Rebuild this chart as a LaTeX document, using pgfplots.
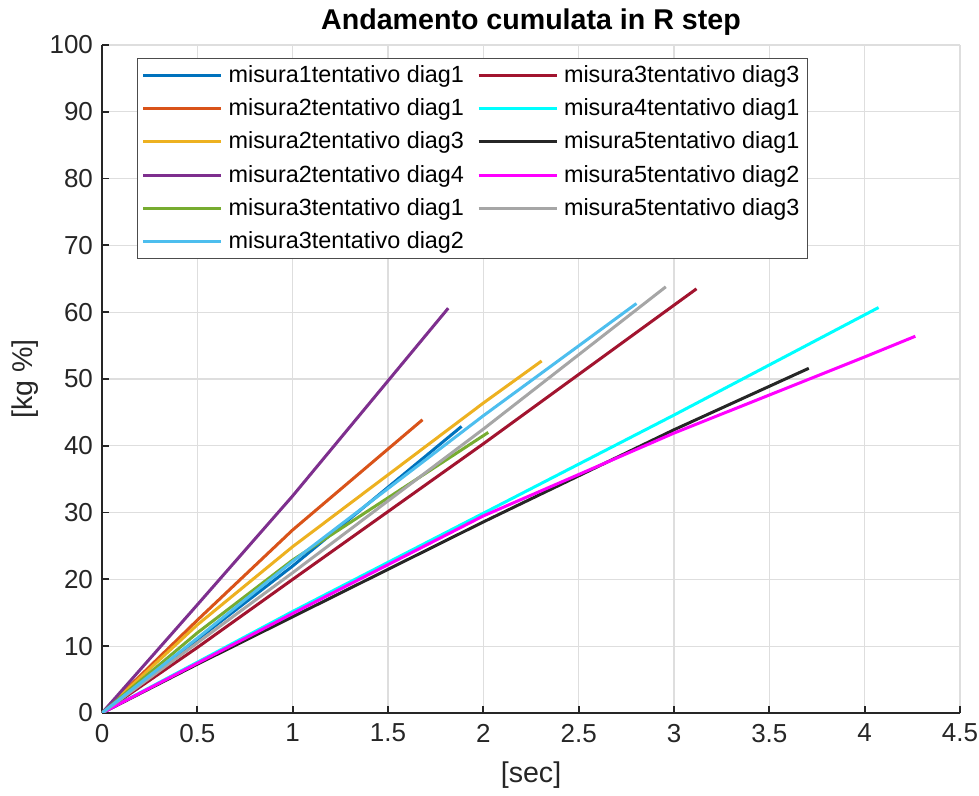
\documentclass[border=0pt]{standalone}
\usepackage{fontspec}
\setmainfont{Liberation Sans}
\usepackage{pgfplots}
\pgfplotsset{compat=1.18}

% MATLAB default line colours
\definecolor{mBlue}{rgb}{0,0.447,0.741}
\definecolor{mOrange}{rgb}{0.85,0.325,0.098}
\definecolor{mYellow}{rgb}{0.929,0.694,0.125}
\definecolor{mPurple}{rgb}{0.494,0.184,0.556}
\definecolor{mGreen}{rgb}{0.466,0.674,0.188}
\definecolor{mLBlue}{rgb}{0.301,0.745,0.933}
\definecolor{mRed}{rgb}{0.635,0.078,0.184}
\definecolor{mBlack}{rgb}{0.15,0.15,0.15}
\definecolor{mGrey}{rgb}{0.65,0.65,0.65}
\definecolor{mCyan}{rgb}{0,1,1}
\definecolor{mMagenta}{rgb}{1,0,1}

\begin{document}
\begin{tikzpicture}
\begin{axis}[
    name=ax,
    scale only axis,
    width=429pt,
    height=334pt,
    xmin=0, xmax=4.5,
    ymin=0, ymax=100,
    xtick={0,0.5,1,1.5,2,2.5,3,3.5,4,4.5},
    xticklabels={0,0.5,1,1.5,2,2.5,3,3.5,4,4.5},
    ytick={0,10,...,100},
    axis lines*=left,
    axis line style={color=mBlack, line width=0.9pt},
    tick align=inside,
    major tick length=3.5pt,
    tick style={color=mBlack, line width=0.9pt},
    grid=major,
    major grid style={color=black!13, line width=0.6pt},
    /pgf/number format/assume math mode=true,
    ticklabel style={font=\fontsize{13}{15}\selectfont, color=mBlack},
    xticklabel style={yshift=-2pt},
    yticklabel style={xshift=-1pt},
    title={\textbf{Andamento cumulata in R step}},
    title style={font=\fontsize{14.3}{16}\selectfont, at={(axis description cs:0.5,1)}, anchor=center, yshift=5.5pt},
    xlabel={[sec]},
    ylabel={[kg \%]},
    xlabel style={font=\fontsize{14.3}{16}\selectfont, color=mBlack, at={(axis description cs:0.5,-0.0928)}, anchor=center},
    ylabel style={font=\fontsize{14.3}{16}\selectfont, color=mBlack, at={(axis description cs:-0.0897,0.5)}, anchor=center},
    legend columns=2,
    legend cell align=left,
    legend style={at={(axis description cs:0.0408,0.9805)}, anchor=north west,
        draw=black!70, line width=0.6pt, fill=white,
        font=\fontsize{11.7}{14}\selectfont,
        inner xsep=2pt, inner ysep=1.5pt, row sep=2.6pt,
        /tikz/every odd column/.append style={column sep=1pt},
        /tikz/every even column/.append style={column sep=4.5pt}},
    legend image code/.code={\draw[#1, line width=1.5pt] (0pt,0pt) -- (39pt,0pt);},
    every axis plot/.append style={line width=1.5pt},
]
% plotted in the order 1,7,2,8,... so that the legend reads column-wise
\addplot[mBlue] coordinates {(0,0) (0.5,11.0) (1,22.0) (1.886,42.9)};
\addlegendentry{misura1tentativo diag1}
\addplot[mRed] coordinates {(0,0) (0.5,9.8) (1,20.0) (2,40.3) (3.118,63.5)};
\addlegendentry{misura3tentativo diag3}
\addplot[mOrange] coordinates {(0,0) (0.5,13.9) (1,27.4) (1.681,43.9)};
\addlegendentry{misura2tentativo diag1}
\addplot[mCyan] coordinates {(0,0) (1,15.2) (2,29.9) (3,44.6) (4.073,60.7)};
\addlegendentry{misura4tentativo diag1}
\addplot[mYellow] coordinates {(0,0) (0.5,13.2) (1,24.9) (2,46.4) (2.306,52.7)};
\addlegendentry{misura2tentativo diag3}
\addplot[mBlack] coordinates {(0,0) (0.5,7.3) (1,14.4) (2,28.6) (3,42.4) (3.707,51.6)};
\addlegendentry{misura5tentativo diag1}
\addplot[mPurple] coordinates {(0,0) (0.5,16.2) (1,32.5) (1.816,60.6)};
\addlegendentry{misura2tentativo diag4}
\addplot[mMagenta] coordinates {(0,0) (1,14.9) (2,29.5) (3,41.9) (4,53.3) (4.266,56.4)};
\addlegendentry{misura5tentativo diag2}
\addplot[mGreen] coordinates {(0,0) (0.5,12.0) (1,22.9) (2.026,42.0)};
\addlegendentry{misura3tentativo diag1}
\addplot[mGrey] coordinates {(0,0) (0.5,10.5) (1,21.0) (2,42.5) (2.957,63.8)};
\addlegendentry{misura5tentativo diag3}
\addplot[mLBlue] coordinates {(0,0) (0.5,11.2) (1,22.7) (2,44.5) (2.803,61.3)};
\addlegendentry{misura3tentativo diag2}
\end{axis}
\pgfresetboundingbox
\path[use as bounding box] ([xshift=-51pt,yshift=-41.5pt]ax.south west) rectangle ([xshift=9.5pt,yshift=22.5pt]ax.north east);
\end{tikzpicture}
\end{document}
